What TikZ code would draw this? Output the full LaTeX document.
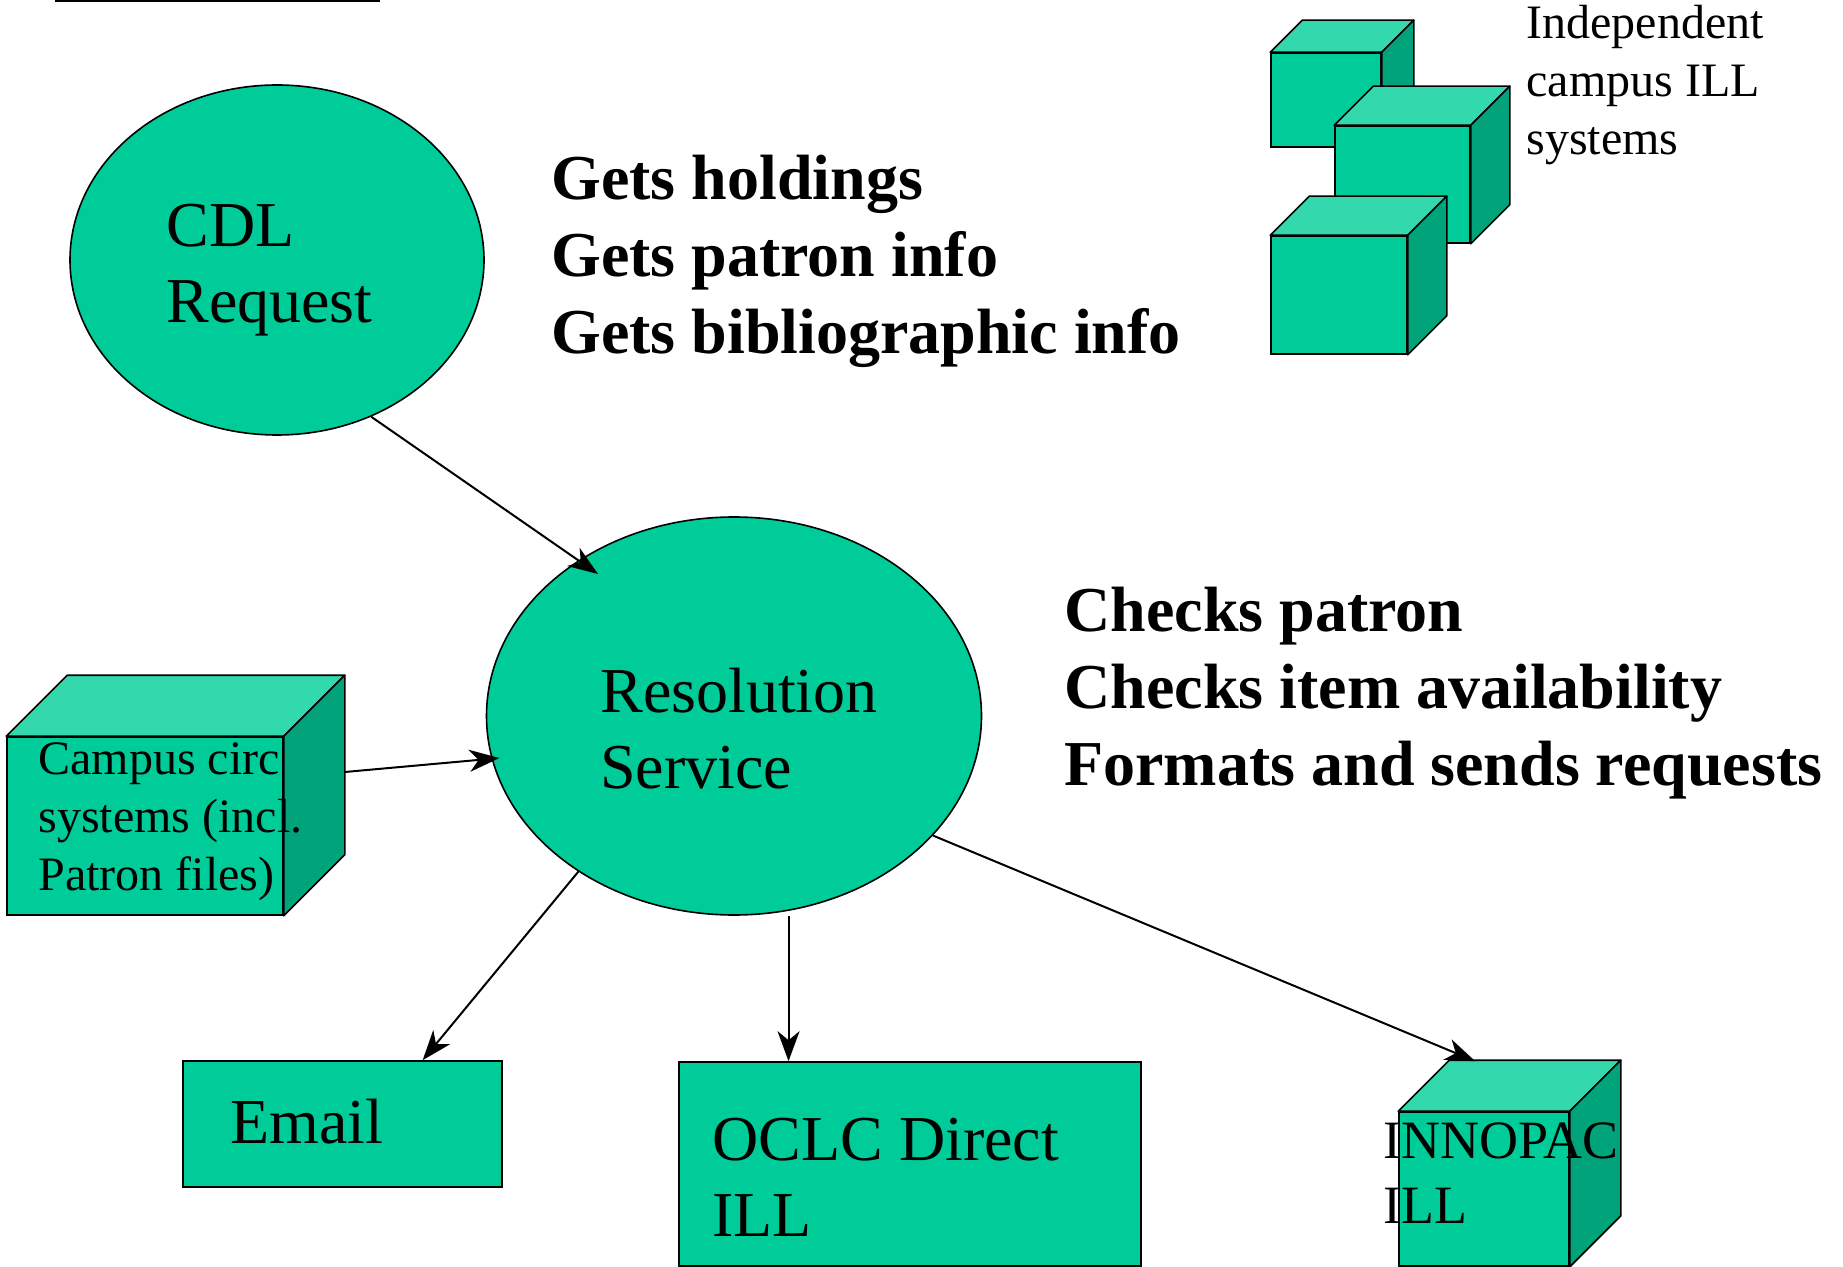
\documentclass[tikz,border=0pt]{standalone}
\usepackage{fontspec}
\setmainfont{Liberation Serif}
\usepackage{tikz}
\usetikzlibrary{arrows.meta,positioning,shapes,calc}
\definecolor{cubegreen}{RGB}{0,204,153}
\definecolor{cubetop}{RGB}{51,217,173}
\definecolor{cubeside}{RGB}{0,163,122}
% top and right faces of a box drawn behind a front node
\newcommand{\cubefaces}[2]{%
  \filldraw[fill=cubetop,line width=0.8pt,line join=round] (#1.north west) -- ++(#2,-#2) -- ($(#1.north east)+(#2,-#2)$) -- (#1.north east) -- cycle;
  \filldraw[fill=cubeside,line width=0.8pt,line join=round] (#1.north east) -- ++(#2,-#2) -- ($(#1.south east)+(#2,-#2)$) -- (#1.south east) -- cycle;}

\begin{document}
\begin{tikzpicture}[x=0.5pt,y=-0.5pt,
    blob/.style={draw,ellipse,fill=cubegreen,line width=0.8pt,inner sep=0},
    slab/.style={draw,rectangle,fill=cubegreen,line width=0.8pt,inner sep=0},
    flow/.style={-{Stealth[length=15pt,width=11pt,inset=4.5pt]},line width=1pt},
    bigtxt/.style={anchor=base west,inner sep=0,align=left,font=\fontsize{32}{38}\selectfont},
    boldtxt/.style={bigtxt,font=\fontsize{32}{38.5}\selectfont\bfseries},
    smalltxt/.style={anchor=base west,inner sep=0,align=left,font=\fontsize{24}{29}\selectfont}]
    % CDL request workflow (text nodes sit on the baseline of their last line)
    \useasboundingbox (0,0) rectangle (1843,1267);
    \draw[line width=1pt] (55,1) -- (380,1);

    \node[blob,minimum width=207pt,minimum height=175pt] (cdl) at (277,260) {};
    \node[bigtxt] (cdltxt) at (166,323) {CDL\\Request};
    \node[blob,minimum width=247.5pt,minimum height=199pt] (res) at (734,716) {};
    \node[bigtxt] (restxt) at (600,788) {Resolution\\Service};

    \node[boldtxt] (gets) at (551,354) {Gets holdings\\Gets patron info\\Gets bibliographic info};
    \node[boldtxt] (checks) at (1064,785) {Checks patron\\Checks item availability\\Formats and sends requests};

    \node[slab,minimum width=55pt,minimum height=47pt] (illa) at (1326,100) {};
    \cubefaces{illa}{32}
    \node[slab,minimum width=67.5pt,minimum height=58.5pt] (illb) at (1402.5,184.5) {};
    \cubefaces{illb}{39}
    \node[slab,minimum width=68pt,minimum height=59pt] (illc) at (1339,295) {};
    \cubefaces{illc}{39}
    \node[smalltxt] (illtxt) at (1526,155) {Independent\\campus ILL\\systems};

    \node[slab,minimum width=138pt,minimum height=89pt] (circ) at (145,826) {};
    \cubefaces{circ}{61}
    \node[smalltxt] (circtxt) at (38,890) {Campus circ\\systems (incl.\\Patron files)};

    \node[slab,minimum width=159.5pt,minimum height=63pt] (email) at (342.5,1124) {};
    \node[bigtxt] (emailtxt) at (230,1143) {Email};
    \node[slab,minimum width=231pt,minimum height=102pt] (oclc) at (910,1164) {};
    \node[bigtxt] (oclctxt) at (712,1236) {OCLC Direct\\ILL};
    \node[slab,minimum width=85pt,minimum height=77pt] (inno) at (1484,1189) {};
    \cubefaces{inno}{51}
    \node[bigtxt,font=\fontsize{27}{32.5}\selectfont] (innotxt) at (1383,1223) {INNOPAC\\ILL};

    \coordinate (ocltop) at ($(oclc.north west)!0.238!(oclc.north east)$);
    \draw[flow,shorten >=-12pt] (cdl.-59) -- (res.135);
    \draw[flow,shorten >=-4pt] ($(circ.east)+(61,-54)$) -- (res.190);
    \draw[flow] (res.-135) -- ($(email.north west)!0.75!(email.north east)$);
    \draw[flow] (res.south -| ocltop) -- (ocltop);
    \draw[flow] (res.-31) -- ($(inno.north west)+(77,-50)$);
\end{tikzpicture}
\end{document}
